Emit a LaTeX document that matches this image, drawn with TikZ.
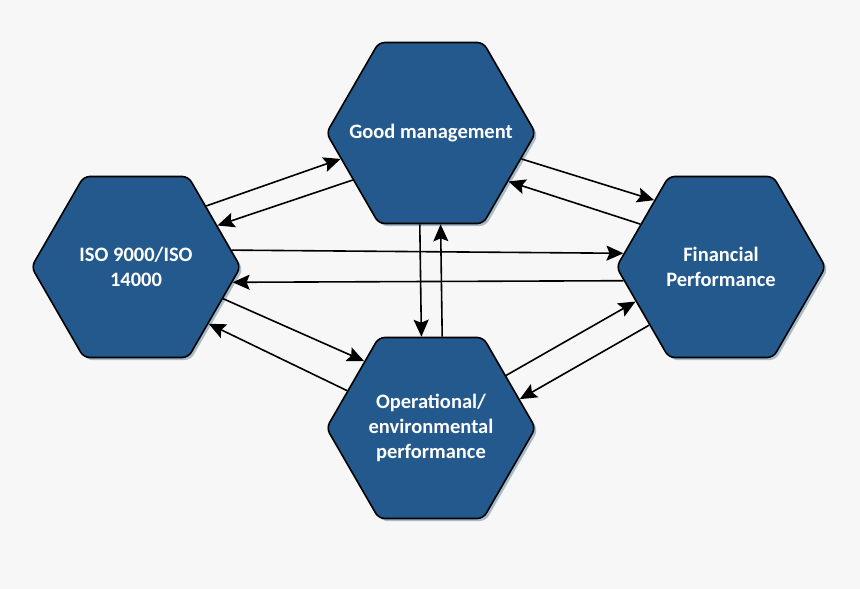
\documentclass[tikz,border=0pt]{standalone}
\usepackage{fontspec}
\setmainfont{Carlito}
\usepackage{tikz}
\usetikzlibrary{positioning, arrows.meta, shadows}
\usetikzlibrary{shapes,shapes.geometric}
\definecolor{hexblue}{RGB}{36,89,142}
\definecolor{shadeblue}{RGB}{168,188,200}
\definecolor{paper}{RGB}{247,247,247}

\begin{document}
\begin{tikzpicture}[x=1pt, y=-1pt,
		hexa/.style={regular polygon, regular polygon sides=6, minimum size=209pt, inner sep=0pt,
			draw=black, line width=1.6pt, rounded corners=6pt, fill=hexblue,
			drop shadow={shadow xshift=2.5pt, shadow yshift=-2.5pt, fill=shadeblue, opacity=1},
			text=white, font=\bfseries\fontsize{20.5}{25}\selectfont, align=center},
		link/.style={-{Stealth[length=17pt,width=15pt,inset=3pt]}, line width=1.6pt}]
			\fill[paper] (0,0) rectangle (860,589);
			\useasboundingbox (0,0) rectangle (860,589);
			
			\node[hexa] (good) at (431,133) {\makebox[0pt]{Good management}};
			\node[hexa, on grid, below left = 134pt and 295pt of good] (iso) {ISO 9000/ISO\\14000};
			\node[hexa, on grid, below right = 134pt and 290pt of good] (fin) {Financial\\Performance};
			\node[hexa, on grid, below = 295pt of good] (oper) {Operational/\\environmental\\performance};
			
			\draw[link] (iso.41.6) -- (good.196.5);
			\draw[link] (good.211.3) -- (iso.27.1);
			\draw[link] (iso.10.5) -- (fin.172);
			\draw[link] (fin.188.7) -- (iso.351.4);
			\draw[link] (iso.340.2) -- (oper.135.9);
			\draw[link] (oper.156.2) -- (iso.322.6);
			\draw[link] (good.344.2) -- (fin.135);
			\draw[link] (fin.152.1) -- (good.328.2);
			\draw[link] (oper.35.9) -- (fin.202.7);
			\draw[link] (fin.219.9) -- (oper.18);
			\draw[link] (good.263.7) -- (oper.96.3);
			\draw[link] (oper.83) -- (good.276.9);
		\end{tikzpicture}
\end{document}
